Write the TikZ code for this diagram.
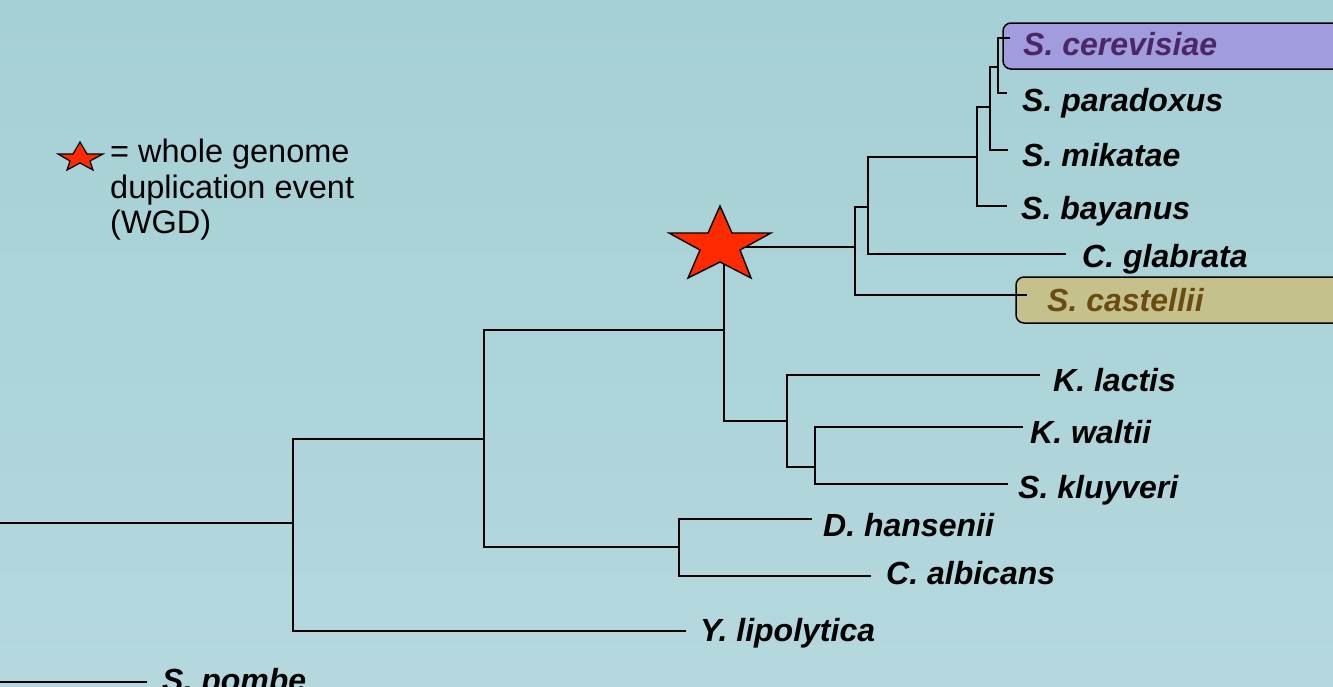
\documentclass[tikz,border=0pt]{standalone}
\usepackage{fontspec}
\setmainfont{Liberation Sans}
\definecolor{bgtop}{HTML}{A5D0D5}
\definecolor{bgbot}{HTML}{B4D8DD}
\definecolor{cerfill}{HTML}{A09CDE}
\definecolor{certext}{HTML}{4A2868}
\definecolor{casfill}{HTML}{C4C18C}
\definecolor{castext}{HTML}{6A4C12}
\definecolor{starred}{HTML}{FF2A00}
\tikzset{
  sp/.style={anchor=base west, inner sep=0pt, font=\fontsize{32}{36}\selectfont\bfseries\itshape},
  legendtxt/.style={anchor=base west, inner sep=0pt, font=\fontsize{32.5}{36}\selectfont},
  branch/.style={line width=1.8pt, black},
  hlbox/.style={rounded corners=8pt, line width=1.5pt, draw=black},
  starshape/.style={fill=starred, draw=black, line width=1.4pt, line join=miter}
}
\begin{document}
\begin{tikzpicture}[x=1pt,y=-1pt]
\useasboundingbox (0,0) rectangle (1333,686);
\shade[top color=bgtop, bottom color=bgbot] (0,0) rectangle (1333,686);
\begin{scope}
\clip (0,0) rectangle (1333,686);
% highlight boxes
\draw[hlbox, fill=cerfill] (1003,23) rectangle (1350,69);
\draw[hlbox, fill=casfill] (1016,277) rectangle (1350,323);

% internal nodes and leaf line ends
\coordinate (r0) at (0,523);
\coordinate (n1) at (293,523);
\coordinate (n2) at (484,439);
\coordinate (n3) at (724,330);
\coordinate (n4) at (679,547);
\coordinate (wgd) at (724,247);
\coordinate (n5) at (787,421);
\coordinate (n6) at (855,247);
\coordinate (n7) at (815,467);
\coordinate (n8) at (868,207);
\coordinate (n9) at (977,157);
\coordinate (n10) at (990,107);
\coordinate (n11) at (998,67);
\coordinate (eyl) at (686,631);
\coordinate (edh) at (812,519);
\coordinate (eca) at (871,576);
\coordinate (ekl) at (1040,375);
\coordinate (ekw) at (1023,427);
\coordinate (esk) at (1008,484);
\coordinate (esc) at (1027,295);
\coordinate (ecg) at (1066,254);
\coordinate (esb) at (1007,206);
\coordinate (esm) at (1008,150);
\coordinate (ecv) at (1010,38);
\coordinate (esp) at (1007,93);
\coordinate (p0) at (0,682);
\coordinate (ep) at (147,682);

% branches
\draw[branch] (r0) -- (n1);
\draw[branch] (n1) |- (n2);
\draw[branch] (n1) |- (eyl);
\draw[branch] (n2) |- (n3);
\draw[branch] (n2) |- (n4);
\draw[branch] (n4) |- (edh);
\draw[branch] (n4) |- (eca);
\draw[branch] (n3) |- (n5);
\draw[branch] (n3) -- (wgd) -- (n6);
\draw[branch] (n5) |- (ekl);
\draw[branch] (n5) |- (n7);
\draw[branch] (n7) |- (ekw);
\draw[branch] (n7) |- (esk);
\draw[branch] (n6) |- (n8);
\draw[branch] (n6) |- (esc);
\draw[branch] (n8) |- (n9);
\draw[branch] (n8) |- (ecg);
\draw[branch] (n9) |- (n10);
\draw[branch] (n9) |- (esb);
\draw[branch] (n10) |- (n11);
\draw[branch] (n10) |- (esm);
\draw[branch] (n11) |- (ecv);
\draw[branch] (n11) |- (esp);
\draw[branch] (p0) -- (ep);

% WGD star
\draw[starshape] (720,206) -- (732,233) -- (771,233) -- (740,250) -- (751,278) -- (720,262) -- (688,278) -- (700,250) -- (669,233) -- (708,233) -- cycle;

% labels
\node[sp, text=certext] (lcv) at (1023,55) {S. cerevisiae};
\node[sp] (lsp) at (1022,111) {S. paradoxus};
\node[sp] (lsm) at (1022,166) {S. mikatae};
\node[sp] (lsb) at (1021,219) {S. bayanus};
\node[sp] (lcg) at (1082,267) {C. glabrata};
\node[sp, text=castext] (lsc) at (1047,311) {S. castellii};
\node[sp] (lkl) at (1053,391) {K. lactis};
\node[sp] (lkw) at (1030,443) {K. waltii};
\node[sp] (lsk) at (1018,498) {S. kluyveri};
\node[sp] (ldh) at (823,536) {D. hansenii};
\node[sp] (lca) at (886,584) {C. albicans};
\node[sp] (lyl) at (700,641) {Y. lipolytica};
\node[sp] (lpo) at (162,691) {S. pombe};

% legend
\draw[starshape, line width=1.2pt] (80,142) -- (87,154) -- (103,154) -- (90,161) -- (93,170) -- (80,163) -- (67,170) -- (70,161) -- (58,154) -- (73,154) -- cycle;
\node[legendtxt] (lg1) at (110,162) {= whole genome};
\node[legendtxt] (lg2) at (110,198) {duplication event};
\node[legendtxt] (lg3) at (110,233) {(WGD)};
\end{scope}
\end{tikzpicture}
\end{document}
